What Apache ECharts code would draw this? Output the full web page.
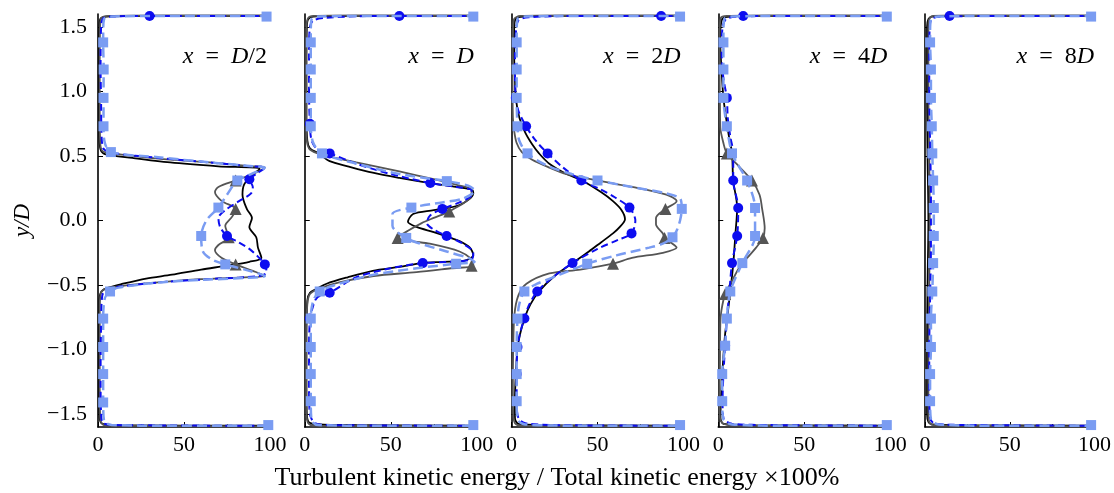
<!DOCTYPE html>
<html><head><meta charset="utf-8">
<script src="https://cdn.jsdelivr.net/npm/echarts@6/dist/echarts.min.js"></script>
<style>html,body{margin:0;padding:0;background:#fff}#c{width:1114px;height:493px}</style>
</head><body><div id="c"></div>
<script>
// ---------- DATA: [TKE ratio (%), y/D] ----------
const TITLES = ['{i|x}  =  {i|D}/2', '{i|x}  =  {i|D}', '{i|x}  =  2{i|D}', '{i|x}  =  4{i|D}', '{i|x}  =  8{i|D}'];
const Y_TICKS = [-1.5, -1.0, -0.5, 0.0, 0.5, 1.0, 1.5];
const X_LABEL = 'Turbulent kinetic energy / Total kinetic energy \u00d7100%';
const Y_LABEL = 'y/D';

// Panel 1: x = D/2
const black1 = [[100,1.585],[30,1.585],[5,1.58],[1.5,1.565],[0.8,1.5],[0.6,1.2],[0.6,0.9],[0.8,0.65],[1.5,0.55],[4,0.515],[20,0.485],[42,0.45],[70,0.42],[94,0.40],[89.5,0.35],[85,0.28],[84,0.2],[86.5,0.09],[89.5,0.02],[88,-0.05],[92,-0.13],[93,-0.21],[95,-0.29],[88,-0.32],[75,-0.35],[60,-0.38],[43,-0.42],[28,-0.45],[14.5,-0.49],[6,-0.52],[2,-0.55],[0.8,-0.62],[0.6,-0.9],[0.6,-1.3],[0.8,-1.5],[2,-1.57],[10,-1.585],[100,-1.59]];
const gray1 = [[100,1.59],[40,1.59],[6,1.585],[2,1.57],[1.2,1.5],[1,1.2],[1,0.8],[1.3,0.6],[2.5,0.54],[8,0.52],[35,0.48],[65,0.45],[90,0.42],[97,0.41],[90,0.36],[80,0.31],[70,0.26],[68,0.22],[72,0.15],[80,0.09],[78,0.03],[74,-0.04],[76,-0.13],[70,-0.19],[68,-0.23],[72,-0.29],[80,-0.34],[90,-0.39],[97,-0.43],[85,-0.44],[60,-0.455],[35,-0.48],[12,-0.51],[4,-0.53],[1.5,-0.57],[1,-0.7],[1,-1.2],[1.2,-1.5],[2,-1.57],[6,-1.59],[100,-1.595]];
const gray1Tri = [[80,0.31],[80,0.09],[76,-0.13],[80,-0.34]];
const blue1 = [[100,1.585],[30,1.585],[8,1.58],[3,1.565],[1.8,1.5],[1.5,1.2],[1.8,0.9],[2,0.7],[3,0.56],[8,0.525],[35,0.485],[65,0.45],[88,0.42],[97,0.41],[92,0.36],[88,0.32],[90,0.26],[89,0.21],[82,0.15],[74,0.08],[70,0.02],[71,-0.05],[75,-0.12],[82,-0.17],[88,-0.22],[93,-0.28],[97,-0.34],[98,-0.40],[94,-0.43],[70,-0.45],[40,-0.475],[14,-0.51],[5,-0.535],[2.5,-0.58],[1.8,-0.8],[1.5,-1.2],[1.8,-1.5],[3,-1.57],[10,-1.585],[100,-1.59]];
const blue1Dot = [[30,1.585],[88,0.32],[75,-0.12],[97,-0.34]];
const lb1 = [[100,1.585],[40,1.585],[8,1.58],[3.5,1.56],[3,1.45],[3,1.38],[3.3,1.17],[3.2,0.95],[3.2,0.73],[4,0.6],[7.5,0.53],[35,0.49],[65,0.45],[90,0.42],[97,0.41],[89,0.36],[81,0.31],[75,0.2],[70,0.10],[63,0.0],[60,-0.12],[61,-0.24],[66,-0.30],[74,-0.34],[88,-0.39],[97,-0.43],[85,-0.445],[60,-0.46],[35,-0.48],[12,-0.52],[7,-0.55],[4,-0.6],[3,-0.76],[3,-0.98],[3,-1.19],[3,-1.41],[3.5,-1.55],[8,-1.585],[40,-1.59],[100,-1.59]];
const lb1Sq = [[98,1.58],[3,1.38],[3.3,1.17],[3.2,0.95],[3.2,0.73],[7.5,0.53],[81,0.31],[70,0.10],[60,-0.12],[74,-0.34],[7,-0.55],[3,-0.76],[3,-0.98],[3,-1.19],[3,-1.41],[99,-1.585]];

// Panel 2: x = D
const black2 = [[100,1.585],[30,1.585],[5,1.58],[2,1.56],[1.2,1.5],[1,1.2],[1,0.8],[1.5,0.62],[3,0.56],[8,0.52],[14.5,0.46],[25,0.42],[39.5,0.37],[55,0.33],[72.7,0.29],[88,0.26],[97,0.24],[98,0.21],[90,0.12],[75,0.08],[63,0.05],[60,-0.01],[65,-0.05],[75,-0.09],[84,-0.13],[90,-0.16],[96,-0.21],[98,-0.27],[93,-0.31],[80,-0.32],[68,-0.33],[55,-0.36],[39.5,-0.39],[25,-0.44],[12.7,-0.49],[7,-0.53],[3,-0.56],[1.5,-0.62],[1,-0.9],[1,-1.3],[1.2,-1.5],[2.5,-1.565],[8,-1.58],[30,-1.585],[100,-1.59]];
const gray2 = [[100,1.59],[30,1.59],[5,1.585],[2,1.57],[1,1.5],[0.8,1.2],[0.8,0.8],[1.2,0.62],[3,0.55],[10,0.51],[30,0.45],[55,0.38],[75,0.32],[90,0.27],[97,0.24],[97,0.2],[84,0.07],[75,0.02],[68,-0.02],[60,-0.08],[54,-0.135],[62,-0.16],[72.7,-0.18],[90,-0.24],[97,-0.30],[98,-0.35],[85,-0.37],[65,-0.40],[40,-0.43],[20,-0.48],[8,-0.53],[3,-0.57],[1.5,-0.65],[0.8,-0.9],[0.8,-1.3],[1,-1.5],[2,-1.57],[6,-1.59],[100,-1.595]];
const gray2Tri = [[84,0.07],[54,-0.135],[97,-0.35]];
const blue2 = [[100,1.585],[40,1.585],[12,1.57],[5,1.55],[3,1.5],[2.5,1.3],[2.5,1.0],[3,0.75],[4,0.62],[8,0.54],[14.5,0.52],[30,0.44],[50,0.36],[73,0.29],[88,0.26],[97,0.235],[97,0.2],[90,0.14],[80,0.09],[73,0.04],[71,-0.02],[75,-0.07],[82.5,-0.12],[92,-0.18],[98,-0.25],[97,-0.30],[85,-0.32],[68.6,-0.33],[50,-0.37],[30,-0.44],[14.5,-0.56],[7,-0.6],[4,-0.7],[3,-0.76],[2.5,-1.0],[2.5,-1.3],[3,-1.5],[6,-1.57],[15,-1.585],[100,-1.59]];
const blue2Dot = [[55,1.585],[3,0.75],[14.5,0.52],[73,0.29],[80,0.09],[82.5,-0.12],[68.6,-0.33],[14.5,-0.56],[3,-0.76]];
const lb2 = [[100,1.585],[40,1.585],[8,1.58],[4,1.56],[3.5,1.45],[3.5,1.38],[3.5,1.17],[3.5,0.95],[3.5,0.73],[5,0.6],[10,0.52],[30,0.44],[55,0.36],[82.6,0.305],[95,0.27],[98.8,0.23],[92,0.17],[80,0.14],[62,0.10],[51,0.05],[51,-0.04],[59,-0.135],[65,-0.17],[82.5,-0.24],[95,-0.29],[98.8,-0.32],[88,-0.335],[65,-0.37],[40,-0.42],[20,-0.49],[8.7,-0.55],[5,-0.62],[3.5,-0.76],[3.5,-0.99],[3.5,-1.19],[3.5,-1.40],[4,-1.55],[8,-1.585],[40,-1.59],[100,-1.59]];
const lb2Sq = [[98,1.58],[3.5,1.38],[3.5,1.17],[3.5,0.95],[3.5,0.73],[10,0.52],[82.6,0.305],[62,0.10],[59,-0.135],[88,-0.335],[8.7,-0.55],[3.5,-0.76],[3.5,-0.98],[3.5,-1.19],[3.5,-1.40],[98,-1.585]];

// Panel 3: x = 2D
const black3 = [[100,1.585],[20,1.585],[4,1.575],[2,1.55],[1.5,1.45],[1.5,1.3],[2,1.1],[2.5,0.95],[4.5,0.8],[8,0.68],[12,0.59],[16,0.52],[22,0.44],[32,0.36],[41,0.31],[52,0.22],[59,0.15],[64,0.08],[66,0.01],[63,-0.05],[59,-0.1],[52,-0.17],[45,-0.24],[35.5,-0.33],[25,-0.43],[16,-0.55],[11,-0.65],[7.5,-0.76],[5,-0.88],[3.5,-0.99],[2.5,-1.19],[2,-1.4],[2,-1.53],[4,-1.575],[20,-1.585],[100,-1.59]];
const gray3 = [[100,1.59],[30,1.59],[5,1.585],[1.5,1.56],[0.8,1.45],[0.6,1.1],[0.8,0.8],[1.5,0.7],[3,0.6],[6,0.53],[12,0.47],[22,0.41],[32,0.36],[50,0.31],[70,0.26],[90,0.2],[96,0.15],[89.5,0.09],[84,0.02],[84,-0.03],[88,-0.1],[89,-0.135],[93.6,-0.18],[96,-0.21],[88,-0.25],[70,-0.29],[59,-0.335],[40,-0.38],[22,-0.41],[8.7,-0.49],[4,-0.58],[1.7,-0.73],[1,-1.0],[0.8,-1.3],[1,-1.5],[2,-1.57],[6,-1.59],[100,-1.595]];
const gray3Tri = [[89.5,0.09],[89,-0.135],[59,-0.335]];
const blue3 = [[100,1.585],[40,1.585],[10,1.575],[4,1.55],[2.5,1.45],[2,1.2],[2.5,0.95],[4,0.85],[8.5,0.73],[14,0.62],[21,0.52],[30,0.41],[40.6,0.31],[52,0.24],[60,0.18],[68.6,0.1],[72,0.0],[69.8,-0.1],[62,-0.15],[50,-0.22],[35.5,-0.33],[24,-0.44],[15,-0.55],[10,-0.66],[7.5,-0.76],[5,-0.87],[3.5,-0.98],[3,-1.19],[3,-1.4],[4,-1.53],[8,-1.57],[25,-1.585],[100,-1.59]];
const blue3Dot = [[87,1.585],[2.5,0.95],[8.5,0.73],[21,0.52],[40.6,0.31],[68.6,0.1],[69.8,-0.1],[35.5,-0.33],[15,-0.55],[7.5,-0.76],[3.5,-0.98],[3,-1.19]];
const lb3 = [[100,1.585],[40,1.585],[8,1.58],[3.5,1.56],[3,1.45],[3,1.38],[3,1.17],[3,0.95],[3.5,0.73],[4.5,0.62],[9.3,0.52],[20,0.43],[35,0.36],[50,0.31],[70,0.26],[90,0.21],[98,0.17],[99,0.09],[98,0.0],[96,-0.08],[93.6,-0.13],[88,-0.18],[80,-0.21],[61,-0.27],[44,-0.335],[28,-0.42],[15,-0.49],[7.5,-0.55],[4.5,-0.65],[3.5,-0.76],[3,-0.98],[3,-1.19],[3,-1.40],[3.5,-1.54],[8,-1.58],[40,-1.59],[100,-1.59]];
const lb3Sq = [[98,1.58],[3,1.38],[3,1.17],[3,0.95],[3.5,0.73],[9.3,0.52],[50,0.31],[99,0.09],[93.6,-0.13],[44,-0.335],[7.5,-0.55],[3.5,-0.76],[3,-0.98],[3,-1.19],[3,-1.40],[98,-1.585]];

// Panel 4: x = 4D
const black4 = [[100,1.585],[20,1.585],[4,1.575],[2,1.55],[1.2,1.45],[1.2,1.37],[2,1.15],[3,0.95],[4.5,0.8],[6,0.67],[8,0.52],[8.7,0.31],[11,0.1],[10,-0.1],[8.7,-0.34],[7,-0.55],[5.5,-0.72],[4,-0.88],[3,-1.05],[2.3,-1.22],[1.5,-1.4],[1.3,-1.53],[3,-1.575],[20,-1.585],[100,-1.59]];
const gray4 = [[100,1.59],[30,1.59],[5,1.585],[1.5,1.57],[0.8,1.45],[0.8,1.1],[1,0.9],[1.2,0.72],[3,0.6],[5,0.52],[12,0.42],[19.6,0.31],[24,0.2],[25.4,0.1],[27,-0.06],[26,-0.135],[22,-0.21],[16.8,-0.29],[12,-0.37],[8.7,-0.45],[4,-0.57],[1.8,-0.7],[1.2,-0.8],[1,-1.1],[0.8,-1.4],[1,-1.53],[3,-1.575],[10,-1.59],[100,-1.595]];
const gray4Tri = [[5,0.52],[19.6,0.31],[26,-0.135],[4,-0.57]];
const blue4 = [[100,1.585],[30,1.585],[14.5,1.58],[5,1.565],[2.5,1.5],[2,1.3],[3,1.1],[5,0.95],[5.5,0.8],[7,0.65],[8.7,0.52],[8.7,0.31],[11.6,0.097],[11,-0.12],[8,-0.33],[6.5,-0.55],[5,-0.76],[4,-0.97],[3,-1.19],[2.5,-1.4],[3,-1.53],[8,-1.575],[30,-1.585],[100,-1.59]];
const blue4Dot = [[14.5,1.585],[5,0.95],[8.7,0.31],[11.6,0.097],[11,-0.12],[8,-0.33],[4,-0.97]];
const lb4 = [[100,1.585],[40,1.585],[8,1.58],[3.5,1.56],[3,1.45],[3,1.38],[3,1.17],[3,0.95],[5,0.73],[8,0.52],[12,0.42],[16.8,0.31],[21.4,0.097],[21.4,-0.12],[14,-0.33],[7,-0.55],[5,-0.76],[4,-0.97],[2.3,-1.19],[2.3,-1.40],[3,-1.54],[8,-1.58],[40,-1.59],[100,-1.59]];
const lb4Sq = [[98,1.58],[3,1.38],[3,1.17],[3,0.95],[5,0.73],[8,0.52],[16.8,0.31],[21.4,0.097],[21.4,-0.12],[14,-0.33],[7,-0.55],[5,-0.76],[4,-0.97],[2.3,-1.19],[2.3,-1.40],[98,-1.585]];

// Panel 5: x = 8D
const black5 = [[100,1.585],[20,1.585],[4,1.58],[2,1.56],[1.2,1.5],[1.2,1.0],[1.5,0.5],[2,0.0],[1.5,-0.5],[1.2,-1.0],[1.2,-1.5],[2,-1.56],[4,-1.58],[20,-1.585],[100,-1.59]];
const gray5 = [[100,1.59],[20,1.59],[5,1.585],[2.5,1.56],[2,1.5],[2,1.0],[2.5,0.5],[2.8,0.0],[2.5,-0.5],[2,-1.0],[2,-1.5],[2.5,-1.56],[5,-1.585],[20,-1.59],[100,-1.595]];
const gray5Tri = [];
const blue5 = [[100,1.585],[30,1.585],[14.5,1.58],[5,1.57],[3,1.53],[2.5,1.3],[2.5,1.0],[3,0.6],[3.5,0.2],[3.5,-0.2],[3,-0.6],[2.5,-1.0],[2.5,-1.3],[3,-1.53],[6,-1.575],[30,-1.585],[100,-1.59]];
const blue5Dot = [[14.5,1.585]];
const lb5 = [[100,1.585],[40,1.585],[8,1.58],[3.5,1.56],[3,1.45],[3,1.38],[3.5,1.17],[3.5,0.95],[4,0.73],[4.3,0.52],[4.8,0.31],[5.2,0.097],[5.2,-0.12],[4.8,-0.33],[4.3,-0.55],[3.5,-0.76],[3.5,-0.98],[3,-1.19],[3,-1.40],[3.5,-1.54],[8,-1.58],[40,-1.59],[100,-1.59]];
const lb5Sq = [[98,1.58],[3,1.38],[3.5,1.17],[3.5,0.95],[4,0.73],[4.3,0.52],[4.8,0.31],[5.2,0.097],[5.2,-0.12],[4.8,-0.33],[4.3,-0.55],[3.5,-0.76],[3.5,-0.98],[3,-1.19],[3,-1.40],[98,-1.585]];

// ---------- BUILD ----------
const PANELS = [
  {black: black1, gray: gray1, grayMk: gray1Tri, blue: blue1, blueMk: blue1Dot, lb: lb1, lbMk: lb1Sq},
  {black: black2, gray: gray2, grayMk: gray2Tri, blue: blue2, blueMk: blue2Dot, lb: lb2, lbMk: lb2Sq},
  {black: black3, gray: gray3, grayMk: gray3Tri, blue: blue3, blueMk: blue3Dot, lb: lb3, lbMk: lb3Sq},
  {black: black4, gray: gray4, grayMk: gray4Tri, blue: blue4, blueMk: blue4Dot, lb: lb4, lbMk: lb4Sq},
  {black: black5, gray: gray5, grayMk: gray5Tri, blue: blue5, blueMk: blue5Dot, lb: lb5, lbMk: lb5Sq}
];

const FONT = '"Liberation Serif", "DejaVu Serif", serif';
const FS = 22;
const C_BLACK = '#000000', C_GRAY = '#555555', C_BLUE = '#0d0df0', C_LB = '#7a9cf2';
const chart = echarts.init(document.getElementById('c'), null, {renderer: 'canvas'});

const grids = [], xAxes = [], yAxes = [], series = [], titles = [];
const GL = 98, GW = 172, GSTEP = 206.75, GT = 14, GH = 413;
const fmtY = v => (v < 0 ? '\u2212' : '') + Math.abs(v).toFixed(1);

PANELS.forEach((P, i) => {
  const left = GL + i * GSTEP;
  grids.push({left: left, top: GT, width: GW, height: GH});
  xAxes.push({
    type: 'value', gridIndex: i, min: 0, max: 100, interval: 50,
    axisLine: {show: true, onZero: false, lineStyle: {color: '#000', width: 1.6}},
    axisTick: {show: true, inside: true, length: 5, lineStyle: {color: '#000', width: 1}},
    minorTick: {show: true, splitNumber: 2, length: 3, lineStyle: {color: '#000', width: 0.8}},
    splitLine: {show: false},
    axisLabel: {show: true, color: '#000', fontFamily: FONT, fontSize: FS, margin: 7}
  });
  const ya = {
    type: 'value', gridIndex: i, min: -1.6, max: 1.6,
    axisLine: {show: true, onZero: false, lineStyle: {color: '#000', width: 1.6}},
    axisTick: {show: true, inside: true, length: 5, customValues: Y_TICKS, lineStyle: {color: '#000', width: 1}},
    splitLine: {show: false},
    axisLabel: {show: i === 0, customValues: Y_TICKS, formatter: fmtY, color: '#000', fontFamily: FONT, fontSize: FS, margin: 11}
  };
  if (i === 0) {
    ya.name = Y_LABEL;
    ya.nameLocation = 'middle';
    ya.nameRotate = 90;
    ya.nameGap = 64;
    ya.nameTextStyle = {fontFamily: FONT, fontSize: 23, fontStyle: 'italic', color: '#000'};
  }
  yAxes.push(ya);
  titles.push({
    text: TITLES[i], right: 1114 - (left + GW) + 3, top: 45, padding: 0,
    textStyle: {fontFamily: FONT, fontSize: 24, fontWeight: 'normal', color: '#000',
      rich: {i: {fontFamily: FONT, fontSize: 24, fontStyle: 'italic', color: '#000'}}}
  });
  const base = {xAxisIndex: i, yAxisIndex: i, animation: false, silent: true};
  const line = (data, color, width, dash, z) => Object.assign({}, base, {
    type: 'line', data: data, showSymbol: false, symbol: 'none', smooth: 0.3, z: z,
    lineStyle: {color: color, width: width, type: dash ? dash : 'solid'}
  });
  const mk = (data, symbol, size, color, z) => Object.assign({}, base, {
    type: 'scatter', data: data, symbol: symbol, symbolSize: size, z: z,
    itemStyle: {color: color, opacity: 1}
  });
  series.push(line(P.black, C_BLACK, 1.8, null, 2));
  series.push(line(P.gray, C_GRAY, 1.8, null, 3));
  series.push(mk(P.grayMk, 'triangle', 12, C_GRAY, 3));
  series.push(line(P.blue, C_BLUE, 2, [7, 4], 4));
  series.push(mk(P.blueMk, 'circle', 10, C_BLUE, 4));
  series.push(line(P.lb, C_LB, 2.5, [10, 5], 5));
  series.push(mk(P.lbMk, 'rect', 10, C_LB, 5));
});

chart.setOption({
  animation: false,
  backgroundColor: '#fff',
  title: titles,
  grid: grids,
  xAxis: xAxes,
  yAxis: yAxes,
  series: series,
  graphic: [{
    type: 'text', x: 557, y: 478,
    style: {text: X_LABEL, fill: '#000', font: '26px ' + FONT, textAlign: 'center', textVerticalAlign: 'middle'}
  }]
});
</script>
</body></html>
